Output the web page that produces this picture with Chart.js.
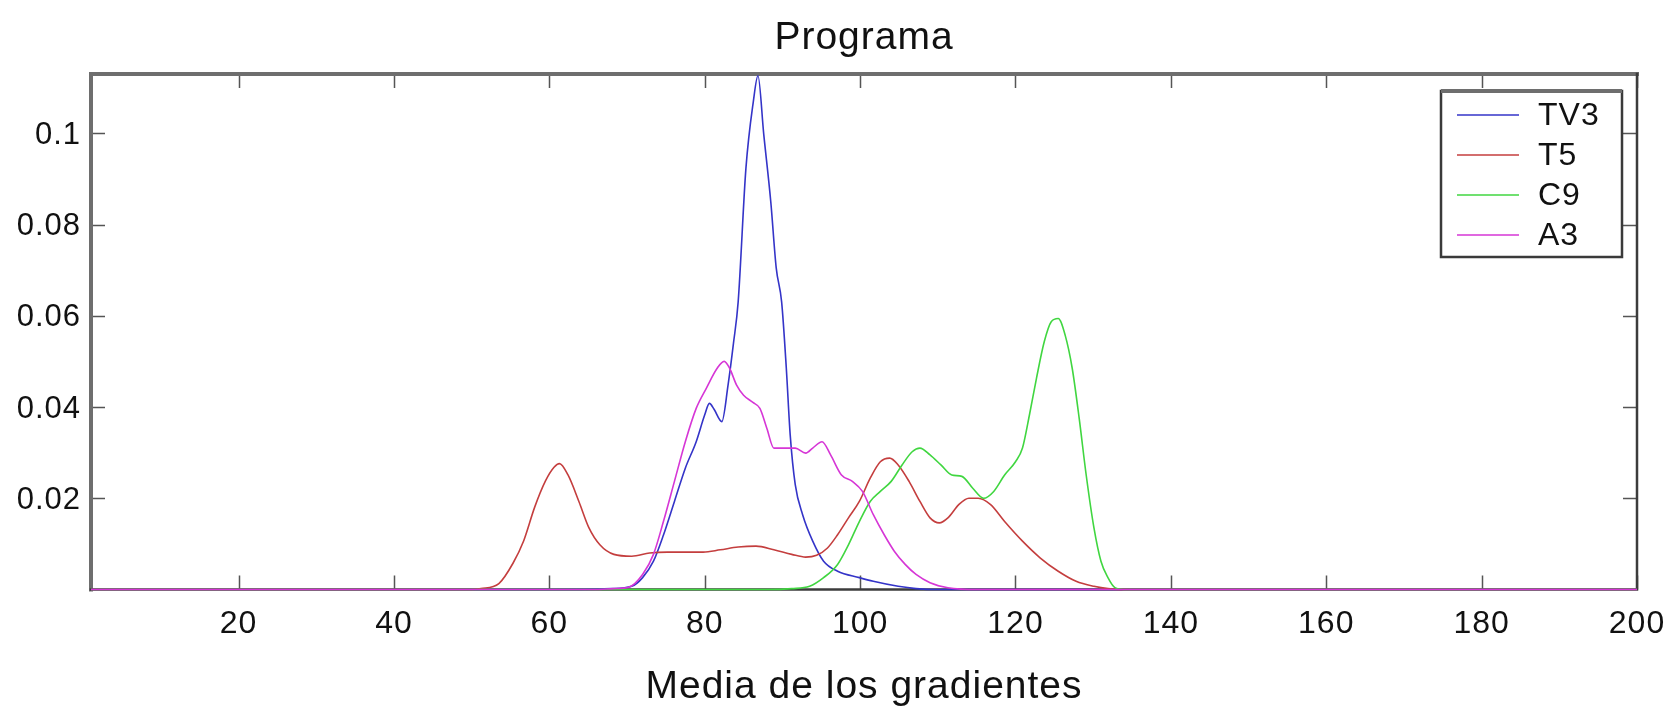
<!DOCTYPE html>
<html>
<head>
<meta charset="utf-8">
<title>Programa</title>
<script src="https://cdn.jsdelivr.net/npm/chart.js@4/dist/chart.umd.min.js"></script>
<style>
  html, body { margin: 0; padding: 0; background: #ffffff; }
  #wrap { width: 1670px; height: 707px; }
</style>
</head>
<body>
<div id="wrap"><canvas id="c" width="1670" height="707"></canvas></div>
<script>
// Densidades de la media de los gradientes por cadena
const seriesNames = ['TV3', 'T5', 'C9', 'A3'];

const tv3X = [1, 60, 68, 70.6, 72, 73.4, 74.7, 76.1, 77.5, 78.9, 80, 80.6, 81.2, 82.2, 83, 83.7, 84.3, 85.3, 86.25, 86.85, 87.6, 88.5, 89.2, 89.9, 90.5, 91.0, 91.65, 92.6, 93.9, 95.3, 97.1, 99.9, 101.7, 104.9, 107.2, 110, 200];
const tv3Y = [0, 0, 0.0002, 0.0007, 0.0026, 0.0062, 0.012, 0.0193, 0.0266, 0.0324, 0.0383, 0.0408, 0.0395, 0.0368, 0.0448, 0.054, 0.063, 0.0923, 0.1069, 0.1126, 0.0997, 0.085, 0.0705, 0.063, 0.0485, 0.0339, 0.023, 0.0164, 0.0106, 0.0062, 0.004, 0.0026, 0.0018, 0.0007, 0.0002, 0, 0];

const t5X = [1, 50, 51.2, 53.5, 55.3, 56.7, 58.1, 59.5, 60.6, 61.3, 62.4, 63.8, 65.1, 66.5, 68.3, 70.6, 72.9, 75.2, 77.5, 79.8, 82, 84.3, 86.6, 88.9, 91.2, 93, 94.4, 95.8, 97.1, 98.5, 99.9, 101.3, 102.6, 103.8, 104.9, 106.3, 107.7, 109, 110.2, 111.3, 112.7, 114, 115.2, 116.8, 118.6, 120.9, 123.2, 125.5, 127.8, 130.1, 131.9, 135, 200];
const t5Y = [0, 0, 0.0002, 0.0013, 0.0057, 0.0107, 0.018, 0.0238, 0.0268, 0.0276, 0.0251, 0.0193, 0.0135, 0.0098, 0.0077, 0.0073, 0.008, 0.0082, 0.0082, 0.0082, 0.0087, 0.0093, 0.0095, 0.0087, 0.0077, 0.0071, 0.0075, 0.0091, 0.012, 0.0157, 0.0193, 0.0244, 0.028, 0.0288, 0.0273, 0.0237, 0.0193, 0.0157, 0.0146, 0.0157, 0.0186, 0.02, 0.02, 0.0186, 0.0149, 0.0106, 0.0069, 0.004, 0.0018, 0.0007, 0.0002, 0, 0];

const c9X = [1, 88, 91.2, 93.5, 95.3, 97.1, 98.5, 99.9, 101.3, 102.6, 104, 105.4, 106.7, 107.7, 109, 110.4, 111.8, 113.1, 114.5, 115.9, 117.2, 118.6, 120, 120.9, 121.8, 122.7, 123.7, 124.6, 125.5, 126.4, 127.3, 128.2, 129.1, 130.1, 131, 131.9, 132.8, 134, 200];
const c9Y = [0, 0, 0.0002, 0.0007, 0.0026, 0.0055, 0.0098, 0.0149, 0.0193, 0.0215, 0.0237, 0.0273, 0.0302, 0.031, 0.0295, 0.0273, 0.0251, 0.0248, 0.0222, 0.02, 0.0215, 0.0251, 0.028, 0.031, 0.0383, 0.0463, 0.0543, 0.0587, 0.0594, 0.0557, 0.0485, 0.0375, 0.0251, 0.0135, 0.0062, 0.0026, 0.0004, 0, 0];

const a3X = [1, 66, 68.3, 70.2, 72, 73.4, 74.7, 76.1, 77.5, 78.9, 80.2, 81.6, 82.5, 83.2, 84.1, 85, 86.2, 87.1, 88, 88.9, 90.3, 91.65, 93, 93.9, 95.1, 96.2, 97.6, 99, 100.3, 101.7, 103.1, 104.4, 105.8, 107.2, 109, 111.3, 115, 200];
const a3Y = [0, 0, 0.0002, 0.0005, 0.0033, 0.0077, 0.015, 0.0237, 0.0324, 0.0397, 0.0441, 0.0485, 0.05, 0.0485, 0.0448, 0.0426, 0.041, 0.0397, 0.0353, 0.031, 0.031, 0.031, 0.0299, 0.031, 0.0324, 0.0295, 0.0251, 0.0237, 0.0215, 0.0164, 0.012, 0.0084, 0.0055, 0.0033, 0.0015, 0.0004, 0, 0];

const xTickValues = [20, 40, 60, 80, 100, 120, 140, 160, 180, 200];
const yTickValues = [0.02, 0.04, 0.06, 0.08, 0.1];
const yTickLabels = ['0.02', '0.04', '0.06', '0.08', '0.1'];

const FONT = "'Liberation Sans', Arial, Helvetica, sans-serif";

function pairs(xs, ys) {
  return xs.map((x, i) => ({ x: x, y: ys[i] }));
}

function makeSet(label, xs, ys, color, order) {
  return {
    label: label,
    data: pairs(xs, ys),
    borderColor: color,
    backgroundColor: color,
    borderWidth: 1.6,
    pointRadius: 0,
    fill: false,
    cubicInterpolationMode: 'monotone',
    clip: false,
    order: order
  };
}

// Texto ligeramente espaciado, como en la figura original
const spacingPlugin = {
  id: 'spacing',
  beforeDraw(chart) {
    chart.ctx.letterSpacing = '1px';
  }
};

// Marco de los ejes con marcas hacia dentro (estilo MATLAB)
const framePlugin = {
  id: 'frame',
  beforeDatasetsDraw(chart) {
    const { ctx, chartArea: a, scales } = chart;
    const tl = 14;
    ctx.save();
    ctx.strokeStyle = '#555';
    ctx.lineWidth = 1.5;
    ctx.beginPath();
    xTickValues.forEach(v => {
      const px = Math.round(scales.x.getPixelForValue(v)) + 0.5;
      ctx.moveTo(px, a.bottom); ctx.lineTo(px, a.bottom - tl);
      ctx.moveTo(px, a.top); ctx.lineTo(px, a.top + tl);
    });
    yTickValues.forEach(v => {
      const py = Math.round(scales.y.getPixelForValue(v)) + 0.5;
      ctx.moveTo(a.left, py); ctx.lineTo(a.left + tl, py);
      ctx.moveTo(a.right, py); ctx.lineTo(a.right - tl, py);
    });
    ctx.stroke();

    ctx.lineCap = 'square';
    ctx.strokeStyle = '#6e6e6e';
    ctx.lineWidth = 4;
    ctx.beginPath();
    ctx.moveTo(a.left, a.bottom); ctx.lineTo(a.left, a.top); ctx.lineTo(a.right, a.top);
    ctx.stroke();
    ctx.strokeStyle = '#3c3c3c';
    ctx.lineWidth = 2.5;
    ctx.beginPath();
    ctx.moveTo(a.right, a.top); ctx.lineTo(a.right, a.bottom); ctx.lineTo(a.left, a.bottom);
    ctx.stroke();
    ctx.restore();
  }
};

// Leyenda dentro del área de trazado, esquina superior derecha
const boxLegendPlugin = {
  id: 'boxLegend',
  afterDraw(chart) {
    const { ctx, chartArea: a } = chart;
    const w = 181, h = 166;
    const right = a.right - 15, top = a.top + 17;
    const left = right - w;
    ctx.save();
    ctx.fillStyle = '#ffffff';
    ctx.fillRect(left, top, w, h);
    ctx.strokeStyle = '#3a3a3a';
    ctx.lineWidth = 2.5;
    ctx.strokeRect(left, top, w, h);
    ctx.strokeStyle = '#6e6e6e';
    ctx.lineWidth = 4;
    ctx.beginPath();
    ctx.moveTo(left, top); ctx.lineTo(right, top);
    ctx.stroke();

    ctx.font = '32px ' + FONT;
    ctx.textBaseline = 'middle';
    ctx.textAlign = 'left';
    chart.data.datasets.forEach((ds, i) => {
      const y = top + 24 + i * 40;
      ctx.strokeStyle = ds.borderColor;
      ctx.lineWidth = 1.6;
      ctx.beginPath();
      ctx.moveTo(left + 16, y); ctx.lineTo(left + 78, y);
      ctx.stroke();
      ctx.fillStyle = '#111';
      ctx.fillText(ds.label, left + 97, y + 1);
    });
    ctx.restore();
  }
};

new Chart(document.getElementById('c'), {
  type: 'line',
  data: {
    datasets: [
      makeSet(seriesNames[0], tv3X, tv3Y, '#3434c8', 4),
      makeSet(seriesNames[1], t5X, t5Y, '#c43e3e', 3),
      makeSet(seriesNames[2], c9X, c9Y, '#40d640', 2),
      makeSet(seriesNames[3], a3X, a3Y, '#d636d6', 1)
    ]
  },
  options: {
    responsive: false,
    devicePixelRatio: 1,
    animation: false,
    layout: { padding: { left: 0, right: 33, top: 0, bottom: 0 } },
    plugins: {
      legend: { display: false },
      tooltip: { enabled: false },
      title: {
        display: true,
        text: 'Programa',
        fullSize: false,
        color: '#111',
        font: { family: FONT, size: 39, weight: 'normal' },
        padding: { top: 15, bottom: 12.2 }
      }
    },
    scales: {
      x: {
        type: 'linear',
        min: 1,
        max: 200,
        afterBuildTicks: s => { s.ticks = xTickValues.map(v => ({ value: v })); },
        afterFit: s => { s.height = 117.5; s.paddingLeft = 0; s.paddingRight = 0; },
        grid: { display: false, drawTicks: false },
        border: { display: false },
        ticks: {
          color: '#111',
          padding: 15,
          maxRotation: 0,
          font: { family: FONT, size: 32 },
          callback: v => String(v)
        },
        title: {
          display: true,
          text: 'Media de los gradientes',
          color: '#111',
          font: { family: FONT, size: 39, lineHeight: 1.0 },
          padding: { top: 0, bottom: 0 }
        }
      },
      y: {
        type: 'linear',
        min: 0,
        max: 0.113,
        afterBuildTicks: s => { s.ticks = yTickValues.map(v => ({ value: v })); },
        afterFit: s => { s.width = 91; s.paddingTop = 0; s.paddingBottom = 0; },
        grid: { display: false, drawTicks: false },
        border: { display: false },
        ticks: {
          color: '#111',
          padding: 10,
          labelOffset: 2,
          font: { family: FONT, size: 31 },
          callback: v => yTickLabels[yTickValues.indexOf(v)] ?? String(v)
        }
      }
    }
  },
  plugins: [spacingPlugin, framePlugin, boxLegendPlugin]
});
</script>
</body>
</html>
